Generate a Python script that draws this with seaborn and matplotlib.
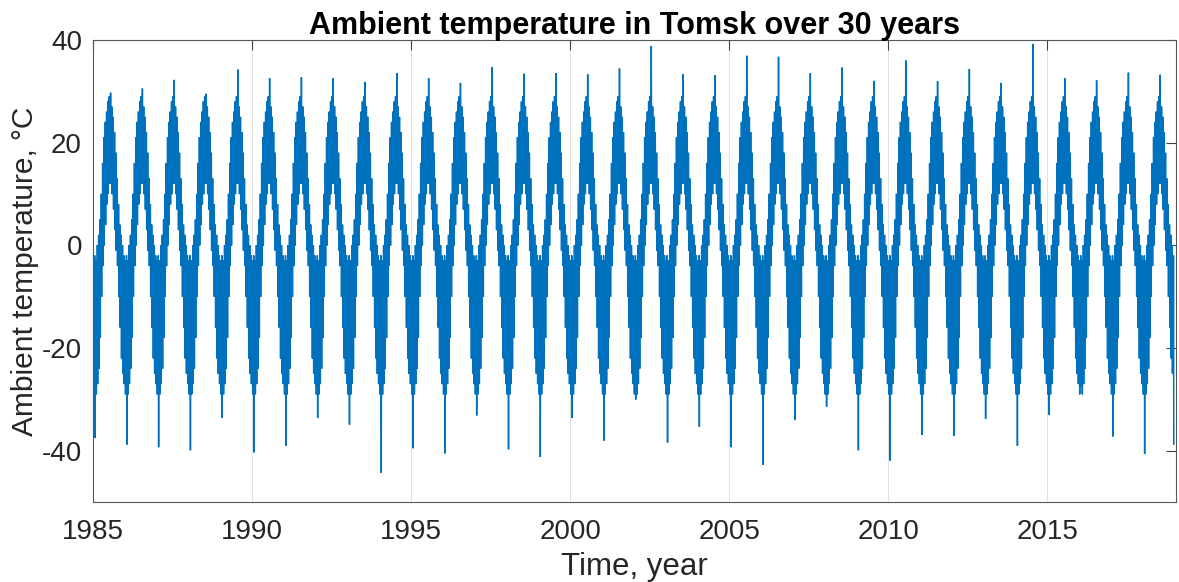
import numpy as np
import pandas as pd
import matplotlib
matplotlib.use("Agg")
import matplotlib.pyplot as plt
import seaborn as sns

# Годы наблюдений
years = list(range(1985, 2019))

# Летний максимум за каждый год, °C
summer_max = [29.7, 30.5, 32.2, 29.5, 34.2, 32.5, 32.7, 32.5, 31.8, 33.5,
              32.5, 31.6, 34.7, 33.4, 33.5, 33.3, 34.4, 38.8, 33.3, 33.1,
              36.9, 36.7, 33.5, 34.6, 32.0, 36.0, 31.9, 34.3, 31.6, 39.2,
              32.5, 32.1, 33.6, 33.2]

# Зимний минимум за каждый год, °C
winter_min = [-37.5, -38.8, -39.3, -39.9, -33.6, -40.3, -39.0, -33.6, -34.9, -44.3,
              -39.5, -40.5, -33.1, -39.7, -41.2, -33.6, -38.0, -30.0, -38.4, -35.3,
              -39.3, -42.7, -34.0, -31.4, -39.9, -41.9, -36.9, -37.1, -33.8, -39.0,
              -33.0, -27.5, -37.2, -40.6]
dec_2018_min = -38.8

# Типичная огибающая по полумесяцам (верх / низ), °C
env_upper = [-3, -2, -3, 0, 2, 5, 10, 16, 21, 24, 26, 28,
             29, 28, 27, 25, 22, 18, 13, 8, 4, 2, 0, -2]
env_lower = [-29, -31, -29, -27, -24, -18, -10, -4, 0, 4, 8, 10,
             12, 12, 10, 7, 3, -1, -4, -10, -16, -22, -25, -27]

rows = []
for i, yr in enumerate(years):
    up = list(env_upper)
    lo = list(env_lower)
    up[13] = summer_max[i]
    lo[1] = winter_min[i]
    if yr == years[-1]:
        lo[23] = dec_2018_min
    for k in range(24):
        t = yr + k / 24
        rows.append((t, up[k]))
        rows.append((t + 1 / 96, lo[k]))
        rows.append((t + 2 / 96, up[k]))
        rows.append((t + 3 / 96, lo[k]))
df = pd.DataFrame(rows, columns=["year", "temp"])

sns.set_style("white")
plt.rcParams["font.family"] = ["Liberation Sans", "DejaVu Sans"]
plt.rcParams["axes.unicode_minus"] = False

fig = plt.figure(figsize=(11.79, 5.82), dpi=100)
ax = fig.add_axes([0.0789, 0.1375, 0.9186, 0.7938])

sns.lineplot(data=df, x="year", y="temp", sort=False, estimator=None,
             color="#0072BD", linewidth=0.6, ax=ax)

ax.set_xlim(1985, 2019.05)
ax.set_ylim(-50, 40)
ax.set_xticks([1985, 1990, 1995, 2000, 2005, 2010, 2015])
ax.set_yticks([-40, -20, 0, 20, 40])
ax.xaxis.grid(True, color="#dcdcdc", linewidth=0.6)
ax.yaxis.grid(False)
ax.set_axisbelow(True)
ax.tick_params(direction="in", length=7, width=0.8, colors="#404040",
               labelcolor="#262626", labelsize=20, top=True, right=True)
ax.tick_params(axis="x", pad=12)
ax.tick_params(axis="y", pad=8)
for s in ax.spines.values():
    s.set_color("#555555")
    s.set_linewidth(0.8)

ax.set_xlabel("Time, year", fontsize=22.5, color="#262626", labelpad=5)
ax.set_ylabel("Ambient temperature, °C", fontsize=21.5, color="#262626", labelpad=2)
ax.set_title("Ambient temperature in Tomsk over 30 years", fontsize=22,
             fontweight="bold", color="black", pad=4)

fig.savefig("out.png", dpi=100)
